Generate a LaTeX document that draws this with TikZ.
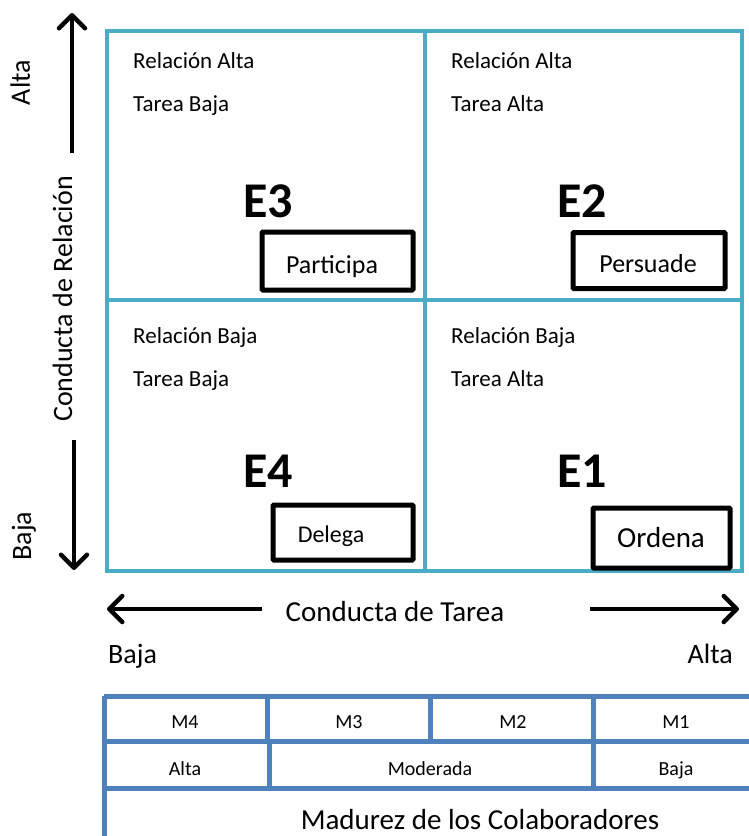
\documentclass[tikz,border=0pt]{standalone}
\usepackage{fontspec}
\setmainfont{Carlito}
\usetikzlibrary{arrows.meta}
\definecolor{teal}{HTML}{4BACC6}
\definecolor{tblue}{HTML}{4F81BD}
\newcommand{\fs}[1]{\fontsize{#1}{#1}\selectfont}
\tikzset{
  quad/.style={anchor=base west, inner sep=0pt, font=\fs{23}},
  ebig/.style={anchor=base west, inner sep=0pt, font=\bfseries\fs{50}},
  actbox/.style={draw=black, line width=5pt, rounded corners=1pt, inner sep=0pt},
  acttext/.style={anchor=base, inner sep=0pt},
  axlabel/.style={anchor=base, inner sep=0pt, font=\fs{28}},
  cell/.style={anchor=base, inner sep=0pt, font=\fs{20}},
  bigarrow/.style={line width=4.5pt, -{Straight Barb[length=13pt,width=26pt,line cap=round,line join=round]}},
  gridline/.style={draw=teal, line width=4.5pt},
  tline/.style={draw=tblue, line width=5pt}
}
\begin{document}
\begin{tikzpicture}[x=1pt,y=-1pt]
\useasboundingbox (0,0) rectangle (749,836);
% grid
\draw[gridline] (107,31) rectangle (742,571);
\draw[gridline] (425,31) -- (425,571);
\draw[gridline] (107,300) -- (742,300);
% quadrant texts
\node[quad] (q3a) at (133,68) {Relación Alta};
\node[quad] (q3b) at (133,111) {Tarea Baja};
\node[quad] (q2a) at (451,68) {Relación Alta};
\node[quad] (q2b) at (451,111) {Tarea Alta};
\node[quad] (q4a) at (133,343) {Relación Baja};
\node[quad] (q4b) at (133,386) {Tarea Baja};
\node[quad] (q1a) at (451,343) {Relación Baja};
\node[quad] (q1b) at (451,386) {Tarea Alta};
\node[ebig] (e3) at (243,217) {E3};
\node[ebig] (e2) at (557,217) {E2};
\node[ebig] (e4) at (243,487) {E4};
\node[ebig] (e1) at (557,487) {E1};
% action boxes
\node[actbox, minimum width=151, minimum height=58] (b3) at (337.5,261) {};
\node[acttext, font=\fs{26}] (t3) at (332,273) {Participa};
\node[actbox, minimum width=152, minimum height=56] (b2) at (649,260.5) {};
\node[acttext, font=\fs{26}] (t2) at (648,272) {Persuade};
\node[actbox, minimum width=140, minimum height=55] (b4) at (343,532.5) {};
\node[acttext, font=\fs{24}] (t4) at (331,542) {Delega};
\node[actbox, minimum width=137, minimum height=60] (b1) at (661.5,538) {};
\node[acttext, font=\fs{29}] (t1) at (661,547) {Ordena};
% vertical axis
\coordinate (vu0) at (72,153);
\coordinate (vu1) at (72,13);
\coordinate (vd0) at (74,440);
\coordinate (vd1) at (74,570);
\draw[bigarrow] (vu0) -- (vu1);
\draw[bigarrow] (vd0) -- (vd1);
\node[axlabel, rotate=90] (valta) at (30,82.5) {Alta};
\node[axlabel, rotate=90] (vbaja) at (31,536) {Baja};
\node[axlabel, rotate=90] (vlab) at (72,299) {Conducta de Relación};
% horizontal axis
\coordinate (hl0) at (262,609);
\coordinate (hl1) at (107,609);
\coordinate (hr0) at (590,609);
\coordinate (hr1) at (739,609);
\draw[bigarrow] (hl0) -- (hl1);
\draw[bigarrow] (hr0) -- (hr1);
\node[axlabel, font=\fs{29}] (hlab) at (395,621) {Conducta de Tarea};
\node[axlabel, anchor=base west] (hbaja) at (108,663) {Baja};
\node[axlabel, anchor=base east] (halta) at (733,663) {Alta};
% table
\draw[tline] (104,696) -- (760,696);
\draw[tline] (104,741) -- (760,741);
\draw[tline] (104,788) -- (760,788);
\draw[tline] (104,696) -- (104,840);
\draw[tline] (267,696) -- (267,741);
\draw[tline] (430,696) -- (430,741);
\draw[tline] (593,696) -- (593,741);
\draw[tline] (269,741) -- (269,788);
\draw[tline] (593,741) -- (593,788);
\node[cell] (m4) at (185,728) {M4};
\node[cell] (m3) at (349,728) {M3};
\node[cell] (m2) at (513,728) {M2};
\node[cell] (m1) at (676,728) {M1};
\node[cell] (ralta) at (185,775) {Alta};
\node[cell] (rmod) at (430,775) {Moderada};
\node[cell] (rbaja) at (676,775) {Baja};
\node[cell, font=\fs{29}] (mad) at (480,829) {Madurez de los Colaboradores};
\end{tikzpicture}
\end{document}
